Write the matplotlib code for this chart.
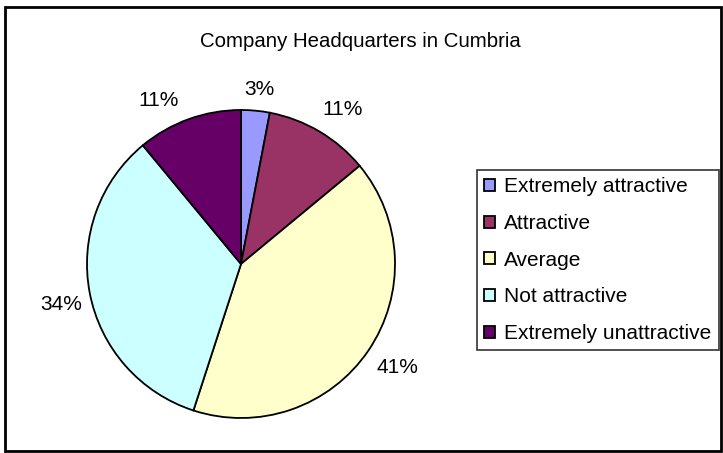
import matplotlib
matplotlib.use("Agg")
import matplotlib.pyplot as plt
from matplotlib.patches import Rectangle
import numpy as np

plt.rcParams["font.family"] = ["Liberation Sans", "DejaVu Sans"]

# survey answers, share of respondents (%)
categories = ["Extremely attractive", "Attractive", "Average",
              "Not attractive", "Extremely unattractive"]
shares = [3, 11, 41, 34, 11]
colors = ["#9999FF", "#993366", "#FFFFCC", "#CCFFFF", "#660066"]

# label placement: distance from centre (in radii) and angular nudge (deg)
label_r = [1.14, 1.20, 1.22, 1.20, 1.19]
label_nudge = [-0.5, -2.6, 0.7, 2.0, 7.0]

FS = 15
W, H = 723, 453
fig = plt.figure(figsize=(W / 100, H / 100), dpi=100)

# outer chart frame
fig.add_artist(Rectangle((5 / W, 2 / H), 716 / W, 444 / H,
                         transform=fig.transFigure, fill=False,
                         edgecolor="black", linewidth=2))

fig.text(360 / W, 1 - 47 / H, "Company Headquarters in Cumbria",
         ha="center", va="baseline", fontsize=14.7)

# pie axes: centre (241, 264) px, radius 154 px
cx, cy, r = 241, 264, 154
ax = fig.add_axes([(cx - r) / W, (H - cy - r) / H, 2 * r / W, 2 * r / H])
wedges, _ = ax.pie(shares, colors=colors, startangle=90, counterclock=False,
                   radius=1, wedgeprops=dict(edgecolor="black", linewidth=1.3))
ax.set_xlim(-1, 1)
ax.set_ylim(-1, 1)
ax.set_aspect("equal")
ax.axis("off")

for w, val, dist, nudge in zip(wedges, shares, label_r, label_nudge):
    ang = np.deg2rad((w.theta1 + w.theta2) / 2 + nudge)
    ax.text(dist * np.cos(ang), dist * np.sin(ang), f"{val}%",
            ha="center", va="center", fontsize=FS, clip_on=False)

leg = fig.legend(wedges, categories, loc="upper left",
                 bbox_to_anchor=(477 / W, 1 - 170 / H),
                 fontsize=FS, frameon=True, fancybox=False,
                 handlelength=0.5, handleheight=0.5, handletextpad=0.45,
                 labelspacing=0.85, borderpad=0.35, borderaxespad=0)
leg.get_frame().set_edgecolor("black")
leg.get_frame().set_linewidth(1.2)

fig.savefig("out.png", dpi=100)
